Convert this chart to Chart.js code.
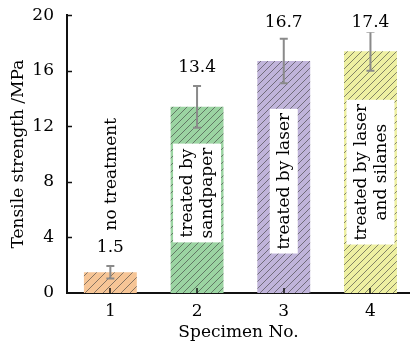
<!DOCTYPE html>
<html>
<head>
<meta charset="utf-8">
<script src="https://cdn.jsdelivr.net/npm/chart.js@4.4.0/dist/chart.umd.min.js"></script>
<style>
  html, body { margin: 0; padding: 0; background: #fff; overflow: hidden; }
  #wrap { width: 410px; height: 348px; }
</style>
</head>
<body>
<div id="wrap"><canvas id="c" width="410" height="348"></canvas></div>
<script>
// Tensile strength of the four specimens (MPa) with their spread
const specimens = [1, 2, 3, 4];
const strength = [1.5, 13.4, 16.7, 17.4];
const spread = [0.45, 1.5, 1.6, 1.4];
const valueLabels = ['1.5', '13.4', '16.7', '17.4'];
const yTicks = [0, 4, 8, 12, 16, 20];
const treatments = [
  ['no treatment'],
  ['treated by', 'sandpaper'],
  ['treated by laser'],
  ['treated by laser', 'and silanes']
];

const FONT = 'DejaVu Serif';
const fills = ['#f6c596', '#9bd4a2', '#c0b4da', '#eef0a2'];
const hatchGap = [9, 7, 7, 7];
// vertical centre of each rotated treatment note, in axis units
const noteMid = [8.55, 7.2, 8.05, 8.7];

function hatch(color, gap) {
  const t = document.createElement('canvas');
  t.width = gap; t.height = gap;
  const g = t.getContext('2d');
  g.fillStyle = color;
  g.fillRect(0, 0, gap, gap);
  g.strokeStyle = 'rgba(60,60,60,0.6)';
  g.lineWidth = 1;
  g.beginPath();
  g.moveTo(0, gap); g.lineTo(gap, 0);
  g.moveTo(-1, 1); g.lineTo(1, -1);
  g.moveTo(gap - 1, gap + 1); g.lineTo(gap + 1, gap - 1);
  g.stroke();
  return g.createPattern(t, 'repeat');
}

const ctx = document.getElementById('c').getContext('2d');

const decorations = {
  id: 'decorations',
  afterDatasetsDraw(chart) {
    const { ctx, scales: { x, y }, chartArea } = chart;
    const meta = chart.getDatasetMeta(0);
    ctx.save();

    // rotated treatment notes on white panels
    ctx.font = '17px "' + FONT + '"';
    ctx.textAlign = 'center';
    ctx.textBaseline = 'middle';
    const lh = 20;
    treatments.forEach((lines, i) => {
      const cx = x.getPixelForValue(specimens[i]);
      const cy = y.getPixelForValue(noteMid[i]);
      const w = Math.max(...lines.map(s => ctx.measureText(s).width));
      const boxH = w + 8;
      const boxW = lines.length * lh + 8;
      ctx.save();
      ctx.translate(cx, cy);
      ctx.rotate(-Math.PI / 2);
      ctx.fillStyle = '#ffffff';
      ctx.fillRect(-boxH / 2, -boxW / 2, boxH, boxW);
      ctx.fillStyle = '#000';
      lines.forEach((s, k) => {
        ctx.fillText(s, 0, (k - (lines.length - 1) / 2) * lh + 1);
      });
      ctx.restore();
    });

    // error bars
    ctx.strokeStyle = '#8a8a8a';
    ctx.lineWidth = 2;
    specimens.forEach((v, i) => {
      const cx = meta.data[i].x;
      const top = y.getPixelForValue(strength[i] + spread[i]);
      const bot = y.getPixelForValue(strength[i] - spread[i]);
      ctx.beginPath();
      ctx.moveTo(cx, top); ctx.lineTo(cx, bot);
      ctx.moveTo(cx - 4, top); ctx.lineTo(cx + 4, top);
      ctx.moveTo(cx - 4, bot); ctx.lineTo(cx + 4, bot);
      ctx.stroke();
    });

    // value labels above the error bars
    ctx.font = '17px "' + FONT + '"';
    ctx.textAlign = 'center';
    ctx.textBaseline = 'middle';
    specimens.forEach((v, i) => {
      const cx = meta.data[i].x;
      const top = y.getPixelForValue(strength[i] + spread[i]);
      const ly = Math.max(top - 19, chartArea.top + 6);
      const w = ctx.measureText(valueLabels[i]).width;
      ctx.fillStyle = '#ffffff';
      ctx.fillRect(cx - w / 2 - 4, ly - 11, w + 8, 22);
      ctx.fillStyle = '#000';
      ctx.fillText(valueLabels[i], cx, ly + 1);
    });
    ctx.restore();
  },
  afterDraw(chart) {
    // inward tick marks on both axes
    const { ctx, scales: { x, y }, chartArea } = chart;
    ctx.save();
    ctx.strokeStyle = '#111';
    ctx.lineWidth = 1.5;
    ctx.beginPath();
    yTicks.forEach(v => {
      if (v === 0) return;
      const py = Math.round(y.getPixelForValue(v)) + 0.5;
      ctx.moveTo(chartArea.left, py); ctx.lineTo(chartArea.left + 5, py);
    });
    specimens.forEach(v => {
      const px = Math.round(x.getPixelForValue(v));
      ctx.moveTo(px, chartArea.bottom); ctx.lineTo(px, chartArea.bottom - 5);
    });
    ctx.stroke();
    ctx.restore();
  }
};

new Chart(ctx, {
  type: 'bar',
  data: {
    datasets: [{
      data: specimens.map((s, i) => ({ x: s, y: strength[i] })),
      backgroundColor: fills.map((c, i) => hatch(c, hatchGap[i])),
      borderWidth: 0,
      barPercentage: 0.61,
      categoryPercentage: 1
    }]
  },
  options: {
    responsive: false,
    animation: false,
    devicePixelRatio: 1,
    layout: { padding: { top: 15, right: 0, left: 0, bottom: 0 } },
    plugins: { legend: { display: false }, tooltip: { enabled: false } },
    scales: {
      x: {
        type: 'linear',
        min: 0.5,
        max: 4.456,
        offset: false,
        z: 1,
        grid: { display: false, offset: false },
        border: { display: true, color: '#111', width: 2 },
        ticks: { color: '#000', font: { family: FONT, size: 17 }, padding: 0 },
        afterBuildTicks: s => { s.ticks = specimens.map(v => ({ value: v })); },
        afterFit: s => { s.height = 55; },
        title: {
          display: true, text: 'Specimen No.', color: '#000',
          font: { family: FONT, size: 17 }, padding: { top: 0, bottom: 5 }
        }
      },
      y: {
        min: 0,
        max: 20,
        z: 1,
        grid: { display: false },
        border: { display: true, color: '#111', width: 2 },
        ticks: { color: '#000', font: { family: FONT, size: 17 }, padding: 5 },
        afterBuildTicks: s => { s.ticks = yTicks.map(v => ({ value: v })); },
        afterFit: s => { s.width = 67; },
        title: {
          display: true, text: 'Tensile strength /MPa', color: '#000',
          font: { family: FONT, size: 17 }, padding: { top: 8, bottom: 0 }
        }
      }
    }
  },
  plugins: [decorations]
});
</script>
</body>
</html>
